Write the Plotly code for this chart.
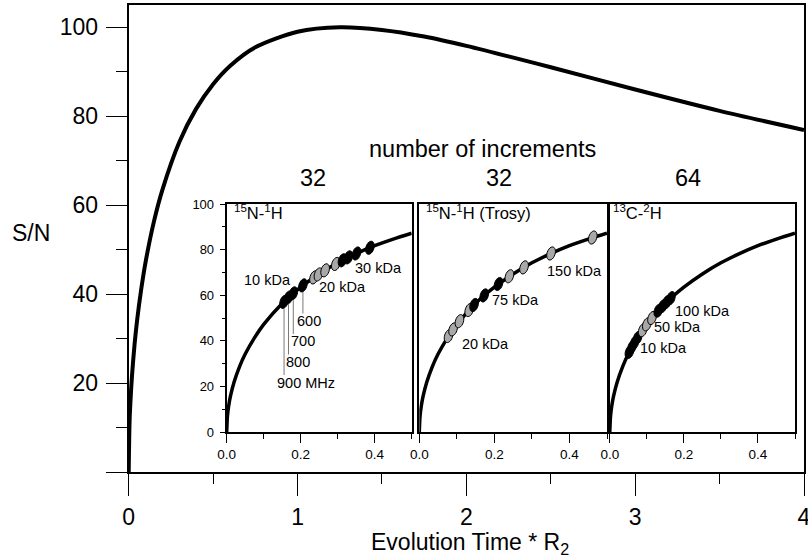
import math
import plotly.graph_objects as go

W, H = 808, 558
FONT = "Liberation Sans, Arial, Helvetica, sans-serif"

# ---------------- data ----------------
# main curve: S/N vs evolution time * R2
main_x = [0, 0.005, 0.01, 0.02, 0.035, 0.05, 0.075, 0.1, 0.15, 0.2, 0.3, 0.4,
          0.5, 0.6, 0.75, 1.0, 1.25, 1.5, 1.75, 2.0, 2.5, 3.0, 3.5, 4.0]
main_y = [0, 11.1, 15.6, 21.9, 28.8, 34.2, 41.3, 47.2, 56.4, 63.5, 74.2, 81.7,
          87.2, 91.3, 95.5, 99.0, 100.0, 99.4, 97.9, 95.8, 91.0, 86.0, 81.2, 76.9]

# inset curve (same in all three insets)
inset_x = [0, 0.002, 0.005, 0.01, 0.02, 0.035, 0.05, 0.075, 0.1, 0.15, 0.2,
           0.25, 0.3, 0.35, 0.4, 0.45, 0.5]
inset_y = [0, 7.0, 11.1, 15.6, 21.9, 28.8, 34.2, 41.3, 47.2, 56.4, 63.5,
           69.3, 74.2, 78.2, 81.7, 84.6, 87.2]

# 15N-1H points
n15_x = [0.155, 0.167, 0.180, 0.206, 0.236, 0.248, 0.266, 0.295, 0.313, 0.329, 0.351, 0.387]
n15_y = [57.1, 59.0, 60.8, 64.3, 67.8, 69.1, 70.9, 73.7, 75.3, 76.6, 78.3, 80.8]
n15_k = ["k", "k", "k", "k", "g", "g", "g", "g", "k", "k", "k", "k"]
n15_mhz = ["900 MHz", "800", "700", "600"]
n15_mhz_bottom = [25, 34, 43, 52]

# 15N-1H (Trosy) points
tr_x = [0.078, 0.090, 0.107, 0.133, 0.146, 0.173, 0.211, 0.240, 0.279, 0.351, 0.462]
tr_y = [42.1, 45.0, 48.6, 53.5, 55.7, 59.9, 64.9, 68.3, 72.2, 78.3, 85.3]
tr_k = ["g", "g", "g", "g", "k", "k", "k", "g", "g", "g", "g"]

# 13C-2H points
c13_x = [0.053, 0.060, 0.067, 0.075, 0.089, 0.100, 0.114, 0.131, 0.143, 0.154, 0.165]
c13_y = [35.1, 37.3, 39.2, 41.3, 44.7, 47.2, 50.0, 53.2, 55.2, 57.0, 58.7]
c13_k = ["k", "k", "k", "k", "g", "g", "g", "k", "k", "k", "k"]

increments = ["32", "32", "64"]
main_xticks = [0, 1, 2, 3, 4]
main_yticks = [0, 20, 40, 60, 80, 100]
inset_xticks = [0, 0.2, 0.4]
inset_yticks = [0, 20, 40, 60, 80, 100]


def px(x):
    return x / W


def py(y):
    return 1 - y / H


# ---------------- geometry ----------------
main_dom_x = [px(128.7), px(804)]
main_dom_y = [py(472), py(5)]
inset_dom_y = [py(432), py(204)]
inset_dom_x = [[px(226.7), px(411.7)], [px(419.3), px(607)], [px(609.8), px(795)]]

fig = go.Figure()

fig.add_trace(go.Scatter(x=main_x, y=main_y, mode="lines",
                         line=dict(color="black", width=4, shape="spline", smoothing=0.8),
                         xaxis="x", yaxis="y", hoverinfo="skip"))

for i in range(3):
    fig.add_trace(go.Scatter(x=inset_x, y=inset_y, mode="lines",
                             line=dict(color="black", width=3.5, shape="spline", smoothing=0.8),
                             xaxis="x%d" % (i + 2), yaxis="y%d" % (i + 2), hoverinfo="skip"))

axis_common = dict(showgrid=False, zeroline=False, showline=True, linecolor="black",
                   mirror=True, tickcolor="black", automargin=False)

layout = dict(
    width=W, height=H, margin=dict(l=0, r=0, t=0, b=0, pad=0, autoexpand=False),
    template="none",
    paper_bgcolor="white", plot_bgcolor="white", showlegend=False,
    font=dict(family=FONT, color="black"),
    xaxis=dict(domain=main_dom_x, range=[0, 4], anchor="y", tickvals=main_xticks,
               ticks="outside", ticklen=22, tickwidth=1.3, linewidth=2,
               tickfont=dict(size=23), ticklabelstandoff=1, ticklabeloverflow="allow",
               minor=dict(dtick=0.5, tick0=0, ticks="outside", ticklen=10, tickwidth=1.3,
                          tickcolor="black"),
               **axis_common),
    yaxis=dict(domain=main_dom_y, range=[0, 105], anchor="x", tickvals=main_yticks,
               ticktext=["" if v == 0 else str(v) for v in main_yticks],
               ticks="outside", ticklen=21, tickwidth=1.3, linewidth=2,
               tickfont=dict(size=23), ticklabelstandoff=3,
               minor=dict(dtick=10, tick0=0, ticks="outside", ticklen=11, tickwidth=1.3,
                          tickcolor="black"),
               **axis_common),
)

for i in range(3):
    n = i + 2
    layout["xaxis%d" % n] = dict(
        domain=inset_dom_x[i], range=[0, 0.5], anchor="y%d" % n,
        tickvals=inset_xticks, ticktext=["%.1f" % v for v in inset_xticks],
        ticks="outside", ticklen=9, tickwidth=1.3, linewidth=2,
        tickfont=dict(size=13.5), ticklabeloverflow="allow",
        minor=dict(tickvals=[0.1, 0.3, 0.5], ticks="outside", ticklen=5, tickwidth=1.3,
                   tickcolor="black"),
        **axis_common)
    ydict = dict(domain=inset_dom_y, range=[0, 100], anchor="x%d" % n, linewidth=2,
                 **axis_common)
    if i == 0:
        ydict.update(tickvals=inset_yticks, ticks="outside", ticklen=5, tickwidth=1.3,
                     tickfont=dict(size=13), ticklabelstandoff=3,
                     minor=dict(dtick=10, tick0=0, ticks="outside", ticklen=3,
                                tickwidth=1.3, tickcolor="black"))
    else:
        ydict.update(ticks="", showticklabels=False)
    layout["yaxis%d" % n] = ydict

fig.update_layout(**layout)

# ---------------- ellipse markers (tilted, drawn as paths) ----------------
shapes = []
RX, RY, TILT = 4.0, 6.8, math.radians(18)  # pixel half sizes, lean to the right


def add_points(xs, ys, kinds, i):
    dom = inset_dom_x[i]
    xscale = (dom[1] - dom[0]) * W / 0.5
    yscale = (inset_dom_y[1] - inset_dom_y[0]) * H / 100.0
    for x, y, k in zip(xs, ys, kinds):
        pts = []
        for s in range(24):
            a = 2 * math.pi * s / 24
            ex, ey = RX * math.cos(a), RY * math.sin(a)
            rx = ex * math.cos(TILT) + ey * math.sin(TILT)
            ry = -ex * math.sin(TILT) + ey * math.cos(TILT)
            pts.append((x + rx / xscale, y + ry / yscale))
        path = "M " + " L ".join("%.5f,%.4f" % p for p in pts) + " Z"
        shapes.append(dict(type="path", path=path, xref="x%d" % (i + 2), yref="y%d" % (i + 2),
                           fillcolor="black" if k == "k" else "#a8a8a8",
                           line=dict(color="black", width=1), layer="above"))


# vertical leader lines for the field strengths (drawn below the ellipses)
for j, lab in enumerate(n15_mhz):
    shapes.append(dict(type="line", xref="x2", yref="y2",
                       x0=n15_x[j], x1=n15_x[j], y0=n15_mhz_bottom[j], y1=n15_y[j] - 3,
                       line=dict(color="#555555", width=0.8), layer="above"))

add_points(n15_x, n15_y, n15_k, 0)
add_points(tr_x, tr_y, tr_k, 1)
add_points(c13_x, c13_y, c13_k, 2)

fig.update_layout(shapes=shapes)

# ---------------- text ----------------
ann = []


def text(t, x, y, size, xanchor="center"):
    ann.append(dict(text=t, x=px(x), y=py(y), xref="paper", yref="paper",
                    xanchor=xanchor, yanchor="middle", showarrow=False,
                    font=dict(size=size, family=FONT, color="black")))


text("S/N", 31, 233, 23)
text("Evolution Time * R<sub>2</sub>", 470, 543, 23)
text("number of increments", 482, 149, 23.5)
for t, cx in zip(increments, [312.5, 499, 688]):
    text(t, cx, 178, 23.5)

text("<sup>15</sup>N-<sup>1</sup>H", 232, 212, 16.5, "left")
text("<sup>15</sup>N-<sup>1</sup>H (Trosy)", 424, 212, 16.5, "left")
text("<sup>13</sup>C-<sup>2</sup>H", 611, 212, 16.5, "left")

LS = 14.5
text("10 kDa", 267.5, 280, LS)
text("20 kDa", 342, 287, LS)
text("30 kDa", 378.5, 268, LS)
for lab, (cx, cy) in zip(n15_mhz, [(306, 383), (298, 362), (302.5, 341), (309, 321)]):
    text(lab, cx, cy, LS)

text("150 kDa", 574, 271, LS)
text("75 kDa", 515, 300, LS)
text("20 kDa", 485.5, 344, LS)

text("100 kDa", 702, 311, LS)
text("50 kDa", 677.5, 327, LS)
text("10 kDa", 663, 348, LS)

fig.update_layout(annotations=ann)

fig.write_html("out.html", config={"displayModeBar": False},
               post_script="document.body.style.margin='0';document.body.style.overflow='hidden';")
